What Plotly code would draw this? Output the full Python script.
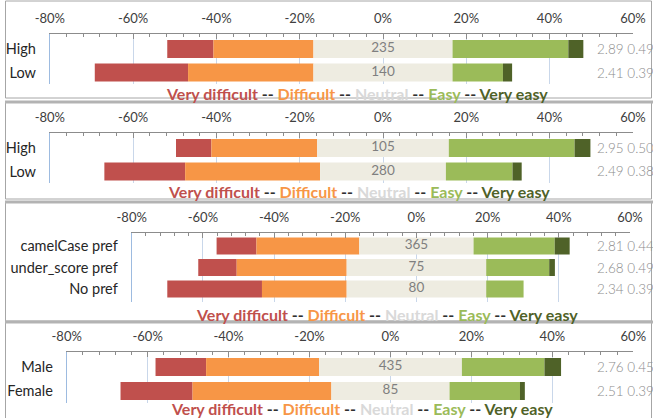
import plotly.graph_objects as go

# ---------------- data ----------------
tick_vals = [-80, -60, -40, -20, 0, 20, 40, 60]
tick_labels = ["-80%", "-60%", "-40%", "-20%", "0%", "20%", "40%", "60%"]

cats1 = ["High", "Low"]
vd1 = [11.1, 22.4]
d1 = [24.0, 30.1]
n1 = [33.4, 33.4]
e1 = [27.8, 12.1]
ve1 = [3.6, 2.2]
count1 = ["235", "140"]
mean1 = ["2.89", "2.41"]
sd1 = ["0.49", "0.39"]

cats2 = ["High", "Low"]
vd2 = [8.5, 19.4]
d2 = [25.4, 32.4]
n2 = [31.6, 30.2]
e2 = [30.2, 16.0]
ve2 = [3.8, 2.2]
count2 = ["105", "280"]
mean2 = ["2.95", "2.49"]
sd2 = ["0.50", "0.38"]

cats3 = ["camelCase pref", "under_score pref", "No pref"]
vd3 = [11.2, 10.8, 26.6]
d3 = [28.9, 30.9, 23.8]
n3 = [32.1, 39.2, 39.2]
e3 = [22.8, 17.7, 10.5]
ve3 = [4.2, 1.6, 0.0]
count3 = ["365", "75", "80"]
mean3 = ["2.81", "2.68", "2.34"]
sd3 = ["0.44", "0.49", "0.39"]

cats4 = ["Male", "Female"]
vd4 = [12.5, 17.8]
d4 = [27.9, 34.3]
n4 = [35.3, 29.2]
e4 = [20.4, 17.4]
ve4 = [4.1, 1.2]
count4 = ["435", "85"]
mean4 = ["2.76", "2.51"]
sd4 = ["0.45", "0.39"]

# ---------------- styling ----------------
W, H = 653, 418
C_VD, C_D, C_N, C_E, C_VE = "#c0504d", "#f79646", "#eeece1", "#9bbb59", "#4f6228"
FONT = "Lato"

def py(v):
    return 1 - v / H

def px(v):
    return v / W

panels = [
    dict(cats=cats1, vd=vd1, d=d1, n=n1, e=e1, ve=ve1, cnt=count1, mean=mean1, sd=sd1,
         xdom=(49.8, 632.9), ydom=(34, 84), yr=(1.489, -0.638), bw=0.77,
         leg=(357, 93), box=(1, 98), top=False),
    dict(cats=cats2, vd=vd2, d=d2, n=n2, e=e2, ve=ve2, cnt=count2, mean=mean2, sd=sd2,
         xdom=(49.8, 632.9), ydom=(133, 183), yr=(1.489, -0.638), bw=0.77,
         leg=(359, 192), box=(102, 199), top=True),
    dict(cats=cats3, vd=vd3, d=d3, n=n3, e=e3, ve=ve3, cnt=count3, mean=mean3, sd=sd3,
         xdom=(131.7, 630.0), ydom=(233, 302), yr=(2.605, -0.605), bw=0.79,
         leg=(387, 314), box=(202, 321), top=True),
    dict(cats=cats4, vd=vd4, d=d4, n=n4, e=e4, ve=ve4, cnt=count4, mean=mean4, sd=sd4,
         xdom=(66.7, 633.3), ydom=(352, 403), yr=(1.5, -0.625), bw=0.75,
         leg=(362, 408.5), box=(322, 420), top=True),
]

fig = go.Figure()
layout = dict(width=W, height=H, margin=dict(l=0, r=0, t=0, b=0, autoexpand=False),
              paper_bgcolor="white", plot_bgcolor="rgba(0,0,0,0)",
              barmode="overlay", showlegend=False,
              font=dict(family=FONT, size=13, color="#262626"))
annotations = []
shapes = []

def seg(txt, col):
    return "<span style='color:%s'><b>%s</b></span>" % (col, txt)

SEP = seg(" -- ", "#303030")
legend_html = (seg("Very difficult", C_VD) + SEP + seg("Difficult", C_D) + SEP +
               seg("Neutral", "#d9d9d9") + SEP + seg("Easy", C_E) + SEP +
               seg("Very easy", C_VE))

for i, p in enumerate(panels, start=1):
    sfx = "" if i == 1 else str(i)
    xa, ya = "x" + sfx, "y" + sfx
    half = [v / 2 for v in p["n"]]
    base_d = [-h - dv for h, dv in zip(half, p["d"])]
    base_vd = [b - v for b, v in zip(base_d, p["vd"])]
    base_ve = [h + ev for h, ev in zip(half, p["e"])]
    neg_half = [-h for h in half]
    specs = [
        (p["vd"], base_vd, C_VD),
        (p["d"], base_d, C_D),
        (p["n"], neg_half, C_N),
        (p["e"], half, C_E),
        (p["ve"], base_ve, C_VE),
    ]
    for vals, base, col in specs:
        fig.add_trace(go.Bar(y=p["cats"], x=vals, base=base, orientation="h",
                             marker=dict(color=col, line=dict(width=0)),
                             width=p["bw"], xaxis=xa, yaxis=ya, hoverinfo="skip"))
    # counts in neutral segment
    fig.add_trace(go.Scatter(y=p["cats"], x=[0] * len(p["cats"]), mode="text",
                             text=p["cnt"], textposition="middle center",
                             textfont=dict(family=FONT, size=13.5, color="#7f7f7f"),
                             xaxis=xa, yaxis=ya, hoverinfo="skip"))
    # mean / sd on the right
    for c, m, s in zip(p["cats"], p["mean"], p["sd"]):
        annotations.append(dict(xref="paper", yref=ya, x=px(595), y=c,
                                xanchor="left", yanchor="middle", showarrow=False,
                                text=m + " " + s,
                                font=dict(family=FONT, size=13.5, color="#8c8c8c", weight=300)))
    # legend line
    annotations.append(dict(xref="paper", yref="paper", x=px(p["leg"][0]), y=py(p["leg"][1]),
                            xanchor="center", yanchor="middle", showarrow=False,
                            text=legend_html, font=dict(family=FONT, size=16)))
    layout["xaxis" + sfx] = dict(
        domain=[px(p["xdom"][0]), px(p["xdom"][1])], range=[-80, 60], anchor=ya,
        side="top", tickvals=tick_vals, ticktext=tick_labels, automargin=False,
        showgrid=True, gridcolor="#c9d7ea", gridwidth=1, zeroline=False,
        showline=True, linecolor="#8c8c8c", linewidth=1,
        ticks="inside", ticklen=5, tickcolor="#8c8c8c",
        minor=dict(dtick=4, ticks="inside", ticklen=3, tickcolor="#8c8c8c", showgrid=False),
        ticklabelstandoff=5, tickfont=dict(family=FONT, size=13, color="#404040"),
        fixedrange=True)
    layout["yaxis" + sfx] = dict(
        domain=[py(p["ydom"][1]), py(p["ydom"][0])], range=list(p["yr"]), anchor=xa,
        type="category", showgrid=False, zeroline=False, automargin=False,
        showline=True, linecolor="#9dbbe0", linewidth=1, ticks="",
        ticklabelstandoff=10, tickfont=dict(family=FONT, size=14.5, color="#262626"),
        fixedrange=True)
    # panel frame
    shapes.append(dict(type="rect", xref="paper", yref="paper", layer="below",
                       x0=px(5.5), x1=px(651.5), y0=py(p["box"][1]), y1=py(p["box"][0]),
                       line=dict(color="#a6a6a6", width=1), fillcolor="white"))
    if p["top"]:
        shapes.append(dict(type="line", xref="paper", yref="paper", layer="below",
                           x0=px(5), x1=px(653), y0=py(p["box"][0]), y1=py(p["box"][0]),
                           line=dict(color="#b3b3b3", width=3)))

layout["annotations"] = annotations
layout["shapes"] = shapes
fig.update_layout(**layout)
fig.write_html("out.html", config={"displayModeBar": False},
               post_script="document.body.style.margin='0';document.body.style.overflow='hidden';")
